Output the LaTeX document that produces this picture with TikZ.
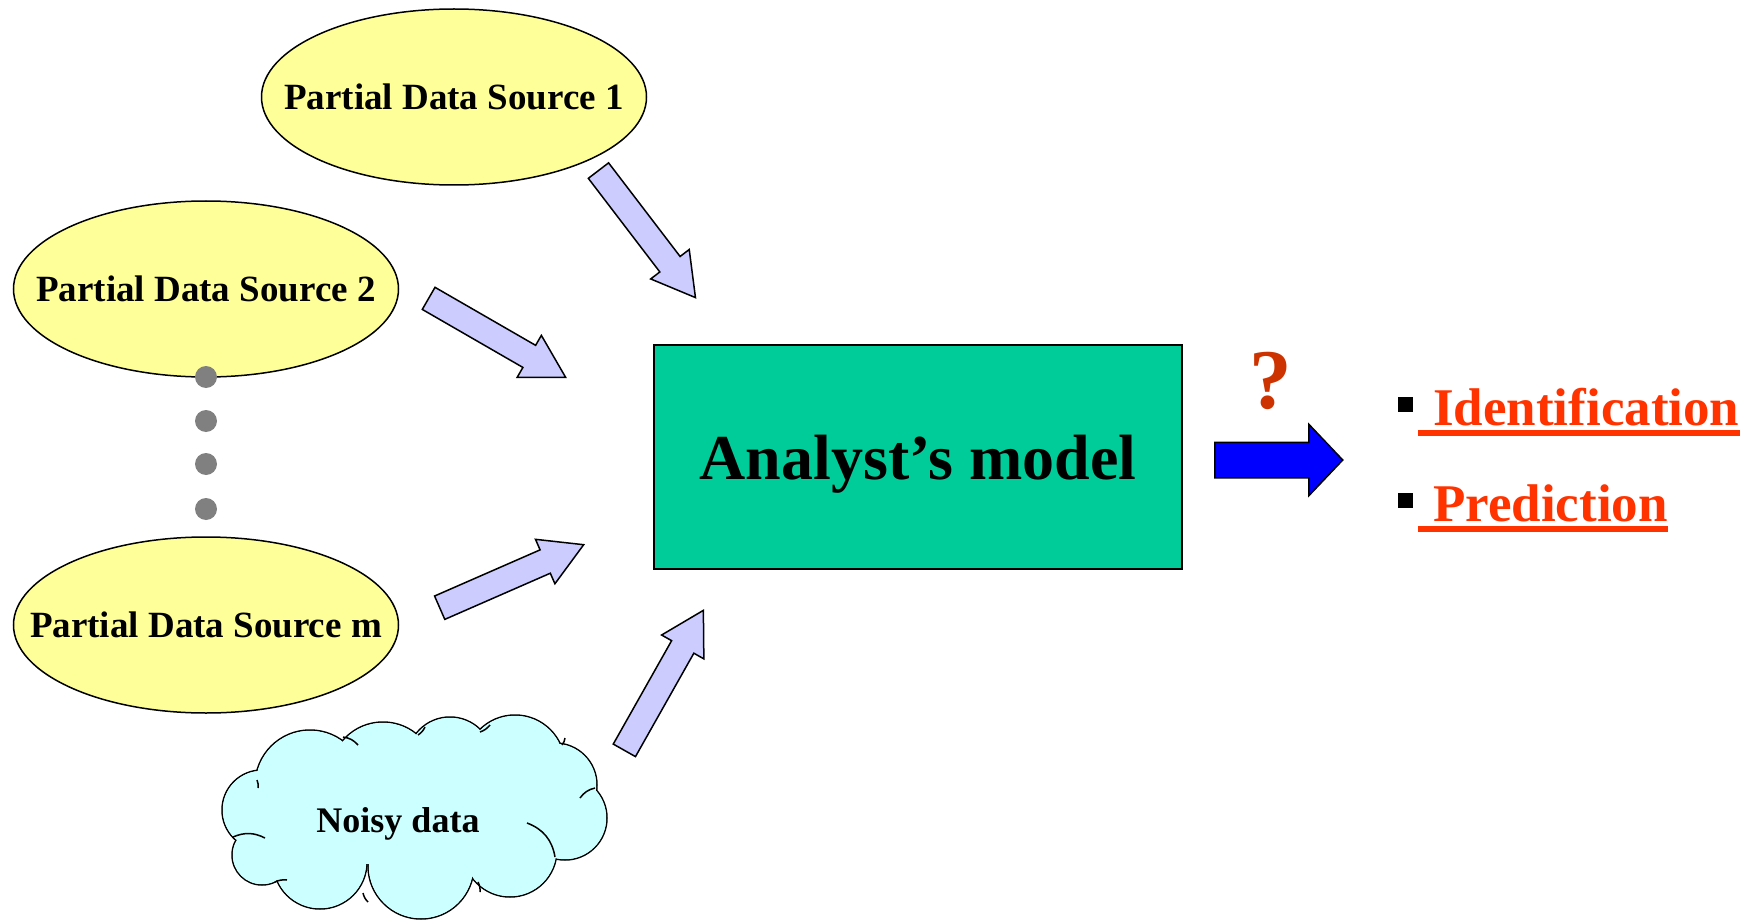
\documentclass[tikz,border=0pt]{standalone}
\usepackage{fontspec}
\setmainfont{Liberation Serif}
\usepackage{tikz}
\usetikzlibrary{shapes.geometric, shapes.arrows, positioning, calc}
\definecolor{srcyellow}{HTML}{FFFF99}
\definecolor{modelgreen}{HTML}{00CC99}
\definecolor{noisecyan}{HTML}{CCFFFF}
\definecolor{feedlav}{HTML}{CCCCFF}
\definecolor{outred}{HTML}{FF3300}
\definecolor{askred}{HTML}{CC3300}
\tikzset{%
	source/.style={
		ellipse,
		draw,
		line width=1.5pt,
		fill=srcyellow,
		minimum width=385pt,
		minimum height=176pt,
		inner xsep=-60pt,
		inner ysep=0pt,
		font=\fontsize{37}{42}\selectfont\bfseries
	},
	feed/.style={
		single arrow,
		draw,
		line width=1.5pt,
		fill=feedlav,
		anchor=tail,
		inner sep=0pt,
		inner ysep=12pt,
		single arrow head extend=11.5pt,
		single arrow tip angle=60
	},
	outcome/.style={
		text=outred,
		inner sep=0pt,
		font=\fontsize{53}{60}\selectfont\bfseries
	},
}
% fat arrow node laid from one named point to another
\newcommand{\feedarrow}[4][]{%
	\path let \p1=($(#4)-(#3)$), \n1={atan2(\y1,\x1)}, \n2={veclen(\x1,\y1)} in
		node[feed, #1, rotate=\n1, minimum height=\n2] (#2) at (#3) {};}
\newcommand{\puffs}{262/810/40, 310/785/55, 383/775/53, 450/760/43, 515/765/50, 555/785/42,
	565/818/42, 510/850/47, 421/866/53, 320/862/47, 262/855/30}

\begin{document}
\begin{tikzpicture}[x=1pt, y=-1pt]
	\useasboundingbox (0,0) rectangle (1754,920);
	
	\node[source] (S1) at (454,97) {Partial Data Source 1};
	\node[source] (S2) at (206,289) {Partial Data Source 2};
	\node[source] (Sm) at (206,625) {Partial Data Source m};
	
	\foreach \y [count=\i] in {377,421,464,509}
		\node[circle, fill=gray, minimum size=22pt, inner sep=0pt] (dot\i) at (206,\y) {};
	
	% cloud: puffs drawn, then filled over to hide the inner lines
	\foreach \cx/\cy/\r in \puffs
		\draw[line width=1.5pt, fill=noisecyan] (\cx,\cy) circle ({\r*1pt});
	\foreach \cx/\cy/\r in \puffs
		\fill[noisecyan] (\cx,\cy) circle ({(\r-0.8)*1pt});
	\fill[noisecyan] (262,810) -- (310,785) -- (383,775) -- (450,760) -- (515,765) -- (555,785)
		-- (565,818) -- (510,850) -- (421,866) -- (320,862) -- (262,855) -- cycle;
	\begin{scope}[line width=1.5pt]
		\draw (343,737) to[bend left=20] (358,745);
		\draw (418,735) to[bend right=15] (425,727);
		\draw (480,732) to[bend right=15] (490,725);
		\draw (562,745) to[bend right=15] (565,738);
		\draw (595,788) to[bend right=20] (580,798);
		\draw (555,857) to[bend right=30] (527,823);
		\draw (478,882) to[bend left=15] (480,892);
		\draw (363,893) to[bend right=15] (368,902);
		\draw (275,882) to[bend left=15] (287,880);
		\draw (233,837) to[bend left=25] (265,838);
		\draw (257,780) to[bend left=15] (258,788);
	\end{scope}
	\node[font=\fontsize{36}{40}\selectfont\bfseries] (noisetext) at (398,824) {Noisy data};
	
	\node[draw, line width=1.5pt, fill=modelgreen, minimum width=528pt, minimum height=224pt,
		text height=45pt, text depth=0pt, font=\fontsize{64}{70}\selectfont\bfseries] (model) at (918,457) {Analyst's model};
	
	\coordinate (t1) at (598,170); \coordinate (h1) at (695,297);
	\coordinate (t2) at (428,298); \coordinate (h2) at (565,377);
	\coordinate (tm) at (439,608); \coordinate (hm) at (583,545);
	\coordinate (tn) at (624,751); \coordinate (hn) at (703,611);
	\feedarrow{a1}{t1}{h1}
	\feedarrow{a2}{t2}{h2}
	\feedarrow{am}{tm}{hm}
	\feedarrow{an}{tn}{hn}
	
	\coordinate (tb) at (1214,460); \coordinate (hb) at (1342,460);
	\feedarrow[fill=blue, inner ysep=17pt, single arrow head extend=18pt, single arrow tip angle=93]{ab}{tb}{hb}
	\node[text=askred, inner sep=0pt, font=\fontsize{85}{90}\selectfont\bfseries] (ask) at (1271,381) {?};
	
	\node[fill=black, minimum size=15pt, inner sep=0pt] (bul1) at (1405,404) {};
	\node[fill=black, minimum size=15pt, inner sep=0pt] (bul2) at (1405,500) {};
	\node[outcome, anchor=base west] (ident) at (1433,425) {Identification};
	\node[outcome, anchor=base west] (pred) at (1433,521) {Prediction};
	\draw[outred, line width=6pt] ([xshift=-15pt, yshift=-8pt]ident.base west) -- ([yshift=-8pt]ident.base east);
	\draw[outred, line width=6pt] ([xshift=-15pt, yshift=-8pt]pred.base west) -- ([yshift=-8pt]pred.base east);
	
\end{tikzpicture}
\end{document}
